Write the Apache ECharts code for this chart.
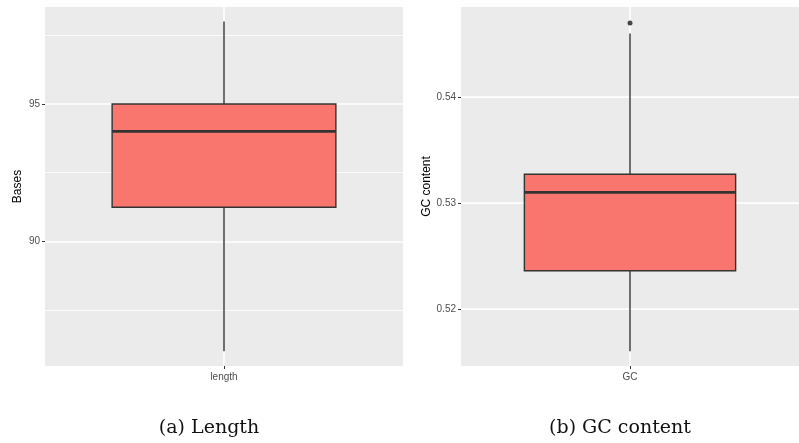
<!DOCTYPE html>
<html>
<head>
<meta charset="utf-8">
<script src="https://cdn.jsdelivr.net/npm/echarts@6/dist/echarts.min.js"></script>
<style>
  html, body { margin: 0; padding: 0; background: #fff; }
  #main { width: 799px; height: 443px; }
</style>
</head>
<body>
<div id="main"></div>
<script>
// data: [low whisker, q1, median, q3, high whisker]
let lengthCats = ['length'];
let lengthStats = [86, 91.24, 94, 95, 98];
let lengthRange = [85.46, 98.53];
let lengthTicks = [90, 95];
let lengthMinor = [87.5, 92.5, 97.5];

let gcCats = ['GC'];
let gcStats = [0.516, 0.5236, 0.531, 0.5327, 0.546];
let gcOutliers = [0.547];
let gcRange = [0.5146, 0.5485];
let gcTicks = [0.52, 0.53, 0.54];
let gcMinor = [0.515, 0.525, 0.535, 0.545];

const boxFill = '#F8766D';
const ink = '#333333';
const labelGrey = '#4D4D4D';

// ggplot style box: no caps on whiskers, thick median
function renderBox(params, api) {
    let x = api.value(0);
    let lo = api.coord([x, api.value(1)]);
    let q1 = api.coord([x, api.value(2)]);
    let md = api.coord([x, api.value(3)]);
    let q3 = api.coord([x, api.value(4)]);
    let hi = api.coord([x, api.value(5)]);
    let w = api.size([1, 0])[0] * 0.625;
    let cx = lo[0];
    return {
        type: 'group',
        children: [
            {type: 'line', shape: {x1: cx, y1: hi[1], x2: cx, y2: q3[1]}, style: {stroke: ink, lineWidth: 1.4}},
            {type: 'line', shape: {x1: cx, y1: q1[1], x2: cx, y2: lo[1]}, style: {stroke: ink, lineWidth: 1.4}},
            {type: 'rect', shape: {x: cx - w / 2, y: q3[1], width: w, height: q1[1] - q3[1]},
                style: {fill: boxFill, stroke: ink, lineWidth: 1.4}},
            {type: 'line', shape: {x1: cx - w / 2, y1: md[1], x2: cx + w / 2, y2: md[1]}, style: {stroke: ink, lineWidth: 2.8}}
        ]
    };
}

// white panel grid lines, drawn under the boxes
function gridLines(cat, major, minor) {
    let data = [{xAxis: cat, lineStyle: {width: 1.6}}];
    major.forEach(function (v) { data.push({yAxis: v, lineStyle: {width: 1.6}}); });
    minor.forEach(function (v) { data.push({yAxis: v, lineStyle: {width: 0.8}}); });
    return {
        silent: true,
        symbol: 'none',
        z: 1,
        label: {show: false},
        lineStyle: {color: '#FFFFFF', type: 'solid'},
        emphasis: {disabled: true},
        animation: false,
        data: data
    };
}

function yAxisFor(gridIndex, name, range, ticks, gap) {
    return {
        type: 'value',
        gridIndex: gridIndex,
        min: range[0],
        max: range[1],
        name: name,
        nameLocation: 'middle',
        nameGap: gap,
        nameTextStyle: {fontFamily: 'Liberation Sans', fontSize: 12, color: '#000'},
        axisLine: {show: false},
        axisTick: {show: true, length: 3, customValues: ticks, lineStyle: {color: ink}},
        axisLabel: {customValues: ticks, margin: 5, fontFamily: 'Liberation Sans', fontSize: 10, color: labelGrey},
        splitLine: {show: false}
    };
}

function xAxisFor(gridIndex, cats) {
    return {
        type: 'category',
        gridIndex: gridIndex,
        data: cats,
        axisLine: {show: false},
        axisTick: {show: true, alignWithLabel: true, length: 3, lineStyle: {color: ink}},
        axisLabel: {margin: 6, fontFamily: 'Liberation Sans', fontSize: 10, color: labelGrey},
        splitLine: {show: false}
    };
}

let chart = echarts.init(document.getElementById('main'), null, {renderer: 'canvas'});

let captionStyle = {fontFamily: 'DejaVu Serif', fontWeight: 'normal', fontSize: 19, color: '#111'};

let option = {
    animation: false,
    backgroundColor: '#FFFFFF',
    title: [
        {text: '(a) Length', left: 204, top: 414, textAlign: 'center', textStyle: captionStyle},
        {text: '(b) GC content', left: 615, top: 414, textAlign: 'center', textStyle: captionStyle}
    ],
    grid: [
        {left: 45, top: 7, width: 358, height: 359, show: true, backgroundColor: '#EBEBEB', borderWidth: 0},
        {left: 461, top: 7, width: 352, height: 359, show: true, backgroundColor: '#EBEBEB', borderWidth: 0}
    ],
    xAxis: [xAxisFor(0, lengthCats), xAxisFor(1, gcCats)],
    yAxis: [
        yAxisFor(0, 'Bases', lengthRange, lengthTicks, 21),
        yAxisFor(1, 'GC content', gcRange, gcTicks, 27)
    ],
    series: [
        {
            type: 'custom',
            xAxisIndex: 0,
            yAxisIndex: 0,
            renderItem: renderBox,
            encode: {x: 0, y: [1, 2, 3, 4, 5]},
            data: lengthCats.map(function (c, i) { return [i].concat(lengthStats); }),
            markLine: gridLines(lengthCats[0], lengthTicks, lengthMinor),
            z: 2
        },
        {
            type: 'custom',
            xAxisIndex: 1,
            yAxisIndex: 1,
            renderItem: renderBox,
            encode: {x: 0, y: [1, 2, 3, 4, 5]},
            data: gcCats.map(function (c, i) { return [i].concat(gcStats); }),
            markLine: gridLines(gcCats[0], gcTicks, gcMinor),
            z: 2
        },
        {
            type: 'scatter',
            xAxisIndex: 1,
            yAxisIndex: 1,
            symbolSize: 5,
            itemStyle: {color: '#1A1A1A'},
            data: gcOutliers.map(function (v) { return [gcCats[0], v]; }),
            z: 3
        }
    ]
};

chart.setOption(option);
</script>
</body>
</html>
